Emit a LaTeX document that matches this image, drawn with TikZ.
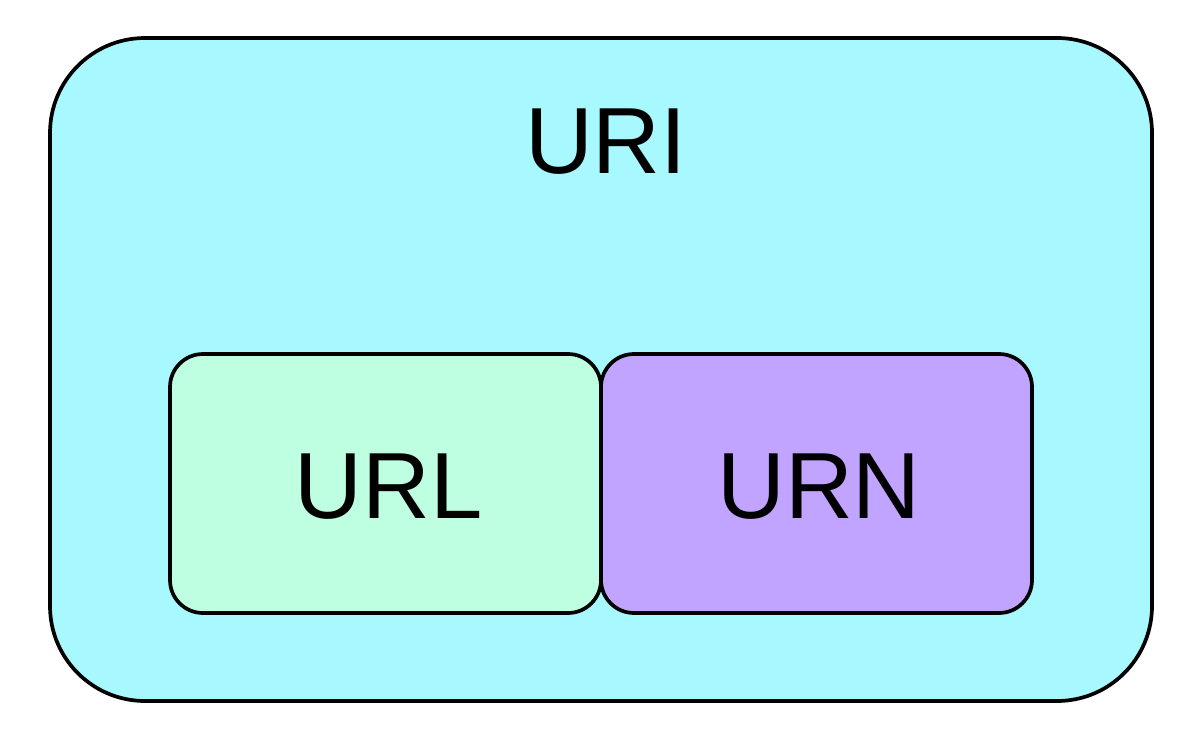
\documentclass[tikz,border=0pt]{standalone}
\usepackage{fontspec}
\setmainfont{Liberation Sans}
\definecolor{uricol}{RGB}{168,248,255}
\definecolor{urlcol}{RGB}{190,255,226}
\definecolor{urncol}{RGB}{193,164,255}
\tikzset{
  box/.style={draw=black, line width=3.7pt},
  lbl/.style={font=\fontsize{94}{94}\selectfont, inner sep=0pt, anchor=base}
}
\begin{document}
\begin{tikzpicture}[x=1pt,y=-1pt]
\useasboundingbox (0,0) rectangle (1202,752);
\fill[white] (0,0) rectangle (1202,752);
\draw[box, fill=uricol, rounded corners=95pt] (50,38) rectangle (1152,701);
\draw[box, fill=urlcol, rounded corners=33pt] (170,354) rectangle (601,613);
\draw[box, fill=urncol, rounded corners=33pt] (601,354) rectangle (1032,613);
\node[lbl] (uri) at (606,173.5) {URI};
\node[lbl] (url) at (389,518) {URL};
\node[lbl] (urn) at (819,518) {URN};
\end{tikzpicture}
\end{document}
